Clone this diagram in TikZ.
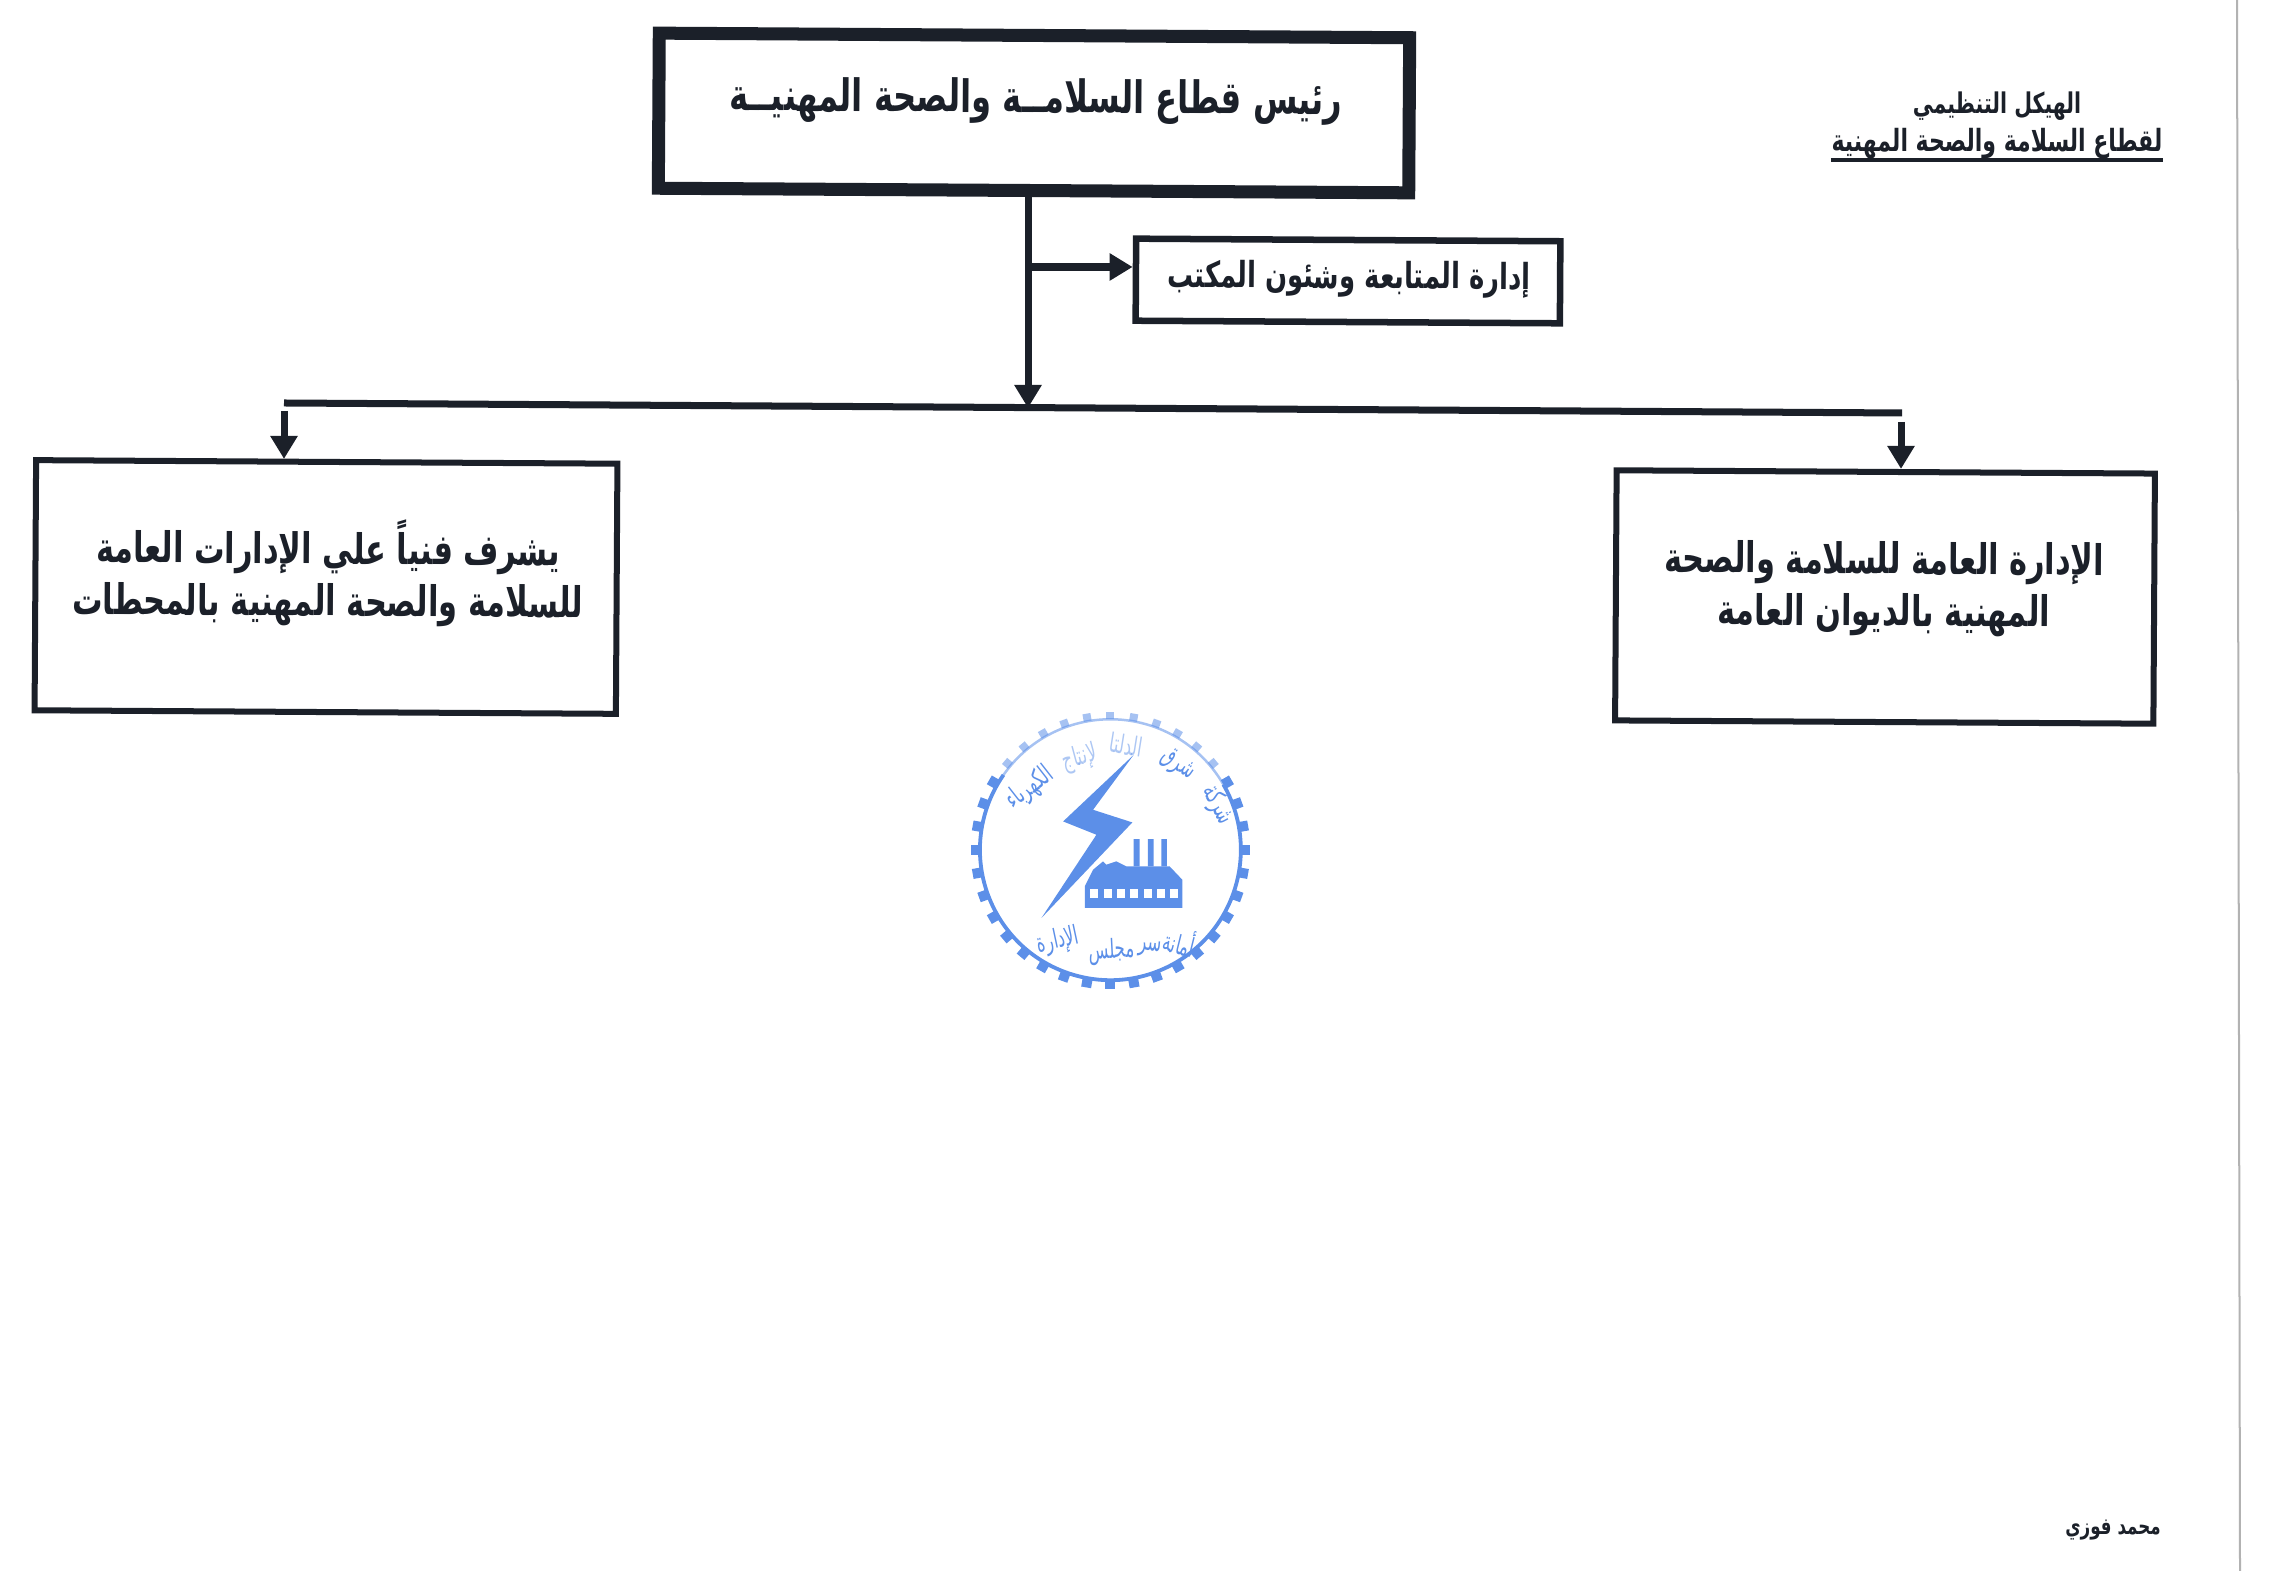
\documentclass[tikz,border=0pt]{standalone}
\usepackage{fontspec}
\usetikzlibrary{arrows.meta,positioning,calc}
\TeXXeTstate=1
\newfontfamily\arabicfont[Script=Arabic,FakeStretch=0.72]{DejaVu Sans}
\newfontfamily\stampfont[Script=Arabic,FakeStretch=0.62]{DejaVu Sans}
\newcommand{\ar}[1]{\arabicfont\beginR #1\endR}
\newcommand{\arstamp}[1]{\stampfont\beginR #1\endR}
\definecolor{inkdark}{HTML}{1B2029}
\definecolor{stampblue}{HTML}{5C8FE8}

\begin{document}
\begin{tikzpicture}[
  x=0.01cm,y=-0.01cm,
  boxbase/.style={draw=inkdark,rotate=-0.35,inner sep=0pt},
  chiefbox/.style={boxbase,line width=1.3mm,minimum width=7.5cm,minimum height=1.55cm},
  officebox/.style={boxbase,line width=0.65mm,minimum width=4.24cm,minimum height=0.82cm},
  deptbox/.style={boxbase,line width=0.6mm,minimum height=2.5cm},
  boxtext/.style={text=inkdark,font=\bfseries\fontsize{12pt}{14.8pt}\selectfont,align=center,rotate=-0.35,inner sep=0pt},
  smalltext/.style={text=inkdark,font=\bfseries\fontsize{8.7pt}{10pt}\selectfont,inner sep=0pt},
  stamptext/.style={text=stampblue,inner sep=0pt,font=\fontsize{7.5pt}{9pt}\selectfont},
  arr/.style={-{Triangle[length=2.3mm,width=2.6mm]},draw=inkdark,line width=0.7mm}
]
\useasboundingbox (0,0) rectangle (2269,1571);

% scan edge
\draw[gray!60,line width=0.2mm] (2237,0) -- (2240,1571);

% boxes
\node[chiefbox] (chief) at (1034,113) {};
\node[officebox] (office) at (1348,281) {};
\node[deptbox,minimum width=5.81cm] (stations) at (326,587) {};
\node[deptbox,minimum width=5.38cm] (headoffice) at (1885,597) {};

% box texts
\node[boxtext,font=\bfseries\fontsize{12.7pt}{16pt}\selectfont] (chieftext) at (1036,101) {\ar{رئيس قطاع السلامــة والصحة المهنيــة}};
\node[boxtext,font=\bfseries\fontsize{10.2pt}{14pt}\selectfont] (officetext) at (1349,279) {\ar{إدارة المتابعة وشئون المكتب}};
\node[boxtext] (stationstext) at (328,573) {\ar{يشرف فنياً علي الإدارات العامة}\\\ar{للسلامة والصحة المهنية بالمحطات}};
\node[boxtext] (headofficetext) at (1884,589) {\ar{الإدارة العامة للسلامة والصحة}\\\ar{المهنية بالديوان العامة}};

% heading and signature
\node[smalltext,font=\bfseries\fontsize{8.1pt}{10pt}\selectfont] (heading) at (1997,106) {\ar{الهيكل التنظيمي}};
\node[smalltext,below=0.07cm of heading] (headingb) {\ar{لقطاع السلامة والصحة المهنية}};
\draw[inkdark,line width=0.45mm] (headingb.south west) -- (headingb.south east);
\node[smalltext,font=\bfseries\fontsize{6.6pt}{8pt}\selectfont] (signature) at (2113,1530) {\ar{محمد فوزي}};

% connectors
\coordinate (busleft) at (284,403);
\coordinate (busright) at (1902,413);
\coordinate (busmid) at (1028,408);
\coordinate (officetap) at (1028,267);
\coordinate (tapleft) at (284,411);
\coordinate (tapright) at (1901,422);
\draw[draw=inkdark,line width=0.7mm] (busleft) -- (busright);
\draw[arr] (busmid |- chief.south) -- (busmid);
\draw[arr,line width=0.75mm] (officetap) -- (officetap -| office.west);
\draw[arr] (tapleft) -- (tapleft |- stations.north);
\draw[arr] (tapright) -- (tapright |- headoffice.north);

% stamp, in its own grid of a third of a unit
\begin{scope}[shift={(930,680)},x=0.00333cm,y=-0.00333cm]
  \coordinate (stampc) at (542,510);
  \draw[stampblue,line width=0.38mm] ($(stampc)+(-30:392)$) arc[start angle=-30,end angle=215,radius=392];
  \draw[stampblue,opacity=0.55,line width=0.25mm] ($(stampc)+(215:392)$) arc[start angle=215,end angle=330,radius=392];
  \foreach \a in {-30,-20,...,210}
    \draw[stampblue,line width=1mm] ($(stampc)+(\a:392)$) -- ($(stampc)+(\a:420)$);
  \foreach \a in {220,230,...,320}
    \draw[stampblue,opacity=0.55,line width=0.8mm] ($(stampc)+(\a:392)$) -- ($(stampc)+(\a:415)$);
  % lightning
  \fill[stampblue] (612,225) -- (490,390) -- (608,428) -- (335,715) -- (500,465) -- (400,425) -- cycle;
  % factory
  \fill[stampblue] (612,478) rectangle (630,560) (655,478) rectangle (672,560) (695,478) rectangle (712,560);
  \fill[stampblue] (465,685) -- (465,620) -- (490,570) -- (520,545) -- (530,555) -- (560,545) -- (590,560)
    -- (720,560) -- (758,600) -- (758,685) -- cycle;
  \foreach \wx in {482,522,562,602,642,682,722}
    \fill[white] (\wx,627) rectangle ++(24,28);
  % stamp lettering
  \node[stamptext,rotate=-62] (stampa) at (865,375) {\arstamp{شركة}};
  \node[stamptext,rotate=-35] (stampb) at (745,255) {\arstamp{شرق}};
  \node[stamptext,rotate=-9,opacity=0.5] (stampd) at (590,195) {\arstamp{الدلتا}};
  \node[stamptext,rotate=15,opacity=0.5] (stampe) at (450,235) {\arstamp{لإنتاج}};
  \node[stamptext,rotate=38] (stampf) at (300,325) {\arstamp{الكهرباء}};
  \node[stamptext,rotate=-14] (stampg) at (750,785) {\arstamp{أمانة}};
  \node[stamptext,rotate=-5] (stamph) at (660,808) {\arstamp{سر}};
  \node[stamptext,rotate=3] (stampi) at (545,815) {\arstamp{مجلس}};
  \node[stamptext,rotate=12] (stampj) at (385,785) {\arstamp{الإدارة}};
\end{scope}
\end{tikzpicture}
\end{document}
